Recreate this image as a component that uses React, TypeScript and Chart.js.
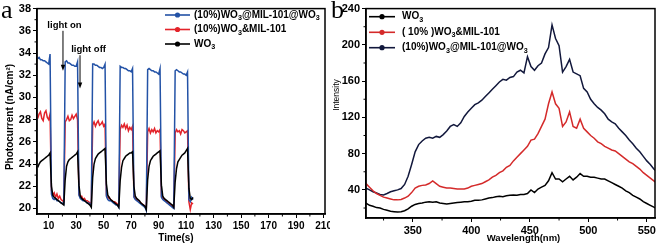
import React, { useEffect, useRef } from 'react';
import { Chart, registerables } from 'chart.js';

Chart.register(...registerables);

const FONT = '"Liberation Sans", Arial, Helvetica, sans-serif';
const SERIF = '"Liberation Serif", "Times New Roman", serif';

// ---------------- Panel a : photocurrent vs time ----------------
const TIME_A = [
  2, 3, 4, 5, 6, 7, 8, 9, 10, 11,
  12, 13, 14, 15, 16, 17, 18, 19, 20, 21,
  22, 23, 24, 25, 26, 27, 28, 29, 30, 31,
  32, 33, 34, 35, 36, 37, 38, 39, 40, 41,
  42, 43, 44, 45, 46, 47, 48, 49, 50, 51,
  52, 53, 54, 55, 56, 57, 58, 59, 60, 61,
  62, 63, 64, 65, 66, 67, 68, 69, 70, 71,
  72, 73, 74, 75, 76, 77, 78, 79, 80, 81,
  82, 83, 84, 85, 86, 87, 88, 89, 90, 91,
  92, 93, 94, 95, 96, 97, 98, 99, 100, 101,
  102, 103, 104, 105, 106, 107, 108, 109, 110, 111,
  112, 113, 114, 115,
];
const BLUE_A = [
  33.5, 33.6, 33.4, 33.4, 33.3, 33.3, 33.2, 33.1, 33.0, 33.9,
  21.3, 20.9, 20.8, 20.9, 20.7, 20.7, 20.6, 20.5, 20.5, 20.4,
  33.2, 33.3, 33.1, 33.1, 33.0, 32.9, 32.9, 32.8, 32.8, 33.2,
  21.2, 20.9, 20.8, 20.7, 20.7, 20.6, 20.5, 20.5, 20.4, 20.2,
  33.0, 33.0, 32.9, 32.9, 32.8, 32.7, 32.7, 32.6, 32.7, 33.0,
  21.1, 20.8, 20.7, 20.7, 20.6, 20.5, 20.4, 20.3, 20.3, 20.1,
  32.8, 32.7, 32.7, 32.6, 32.6, 32.5, 32.4, 32.4, 32.3, 32.6,
  21.0, 20.8, 20.7, 20.6, 20.5, 20.4, 20.3, 20.2, 20.1, 19.8,
  32.5, 32.6, 32.5, 32.4, 32.4, 32.3, 32.3, 32.2, 32.1, 32.6,
  21.0, 20.8, 20.7, 20.6, 20.5, 20.4, 20.3, 20.2, 20.1, 20.0,
  32.4, 32.5, 32.4, 32.3, 32.3, 32.2, 32.1, 32.1, 32.0, 32.3,
  20.8, 20.6, 21.0, 20.8,
];
const RED_A = [
  28.1, 28.5, 28.7, 28.1, 27.9, 28.6, 28.8, 28.2, 28.0, 28.5,
  21.6, 21.2, 21.4, 21.0, 21.3, 20.9, 21.1, 20.8, 20.7, 20.6,
  27.8, 28.0, 28.3, 27.9, 28.0, 28.4, 28.1, 28.3, 28.5, 28.0,
  21.3, 21.0, 21.1, 20.8, 20.9, 20.7, 20.7, 20.6, 20.5, 20.4,
  27.5, 27.8, 27.4, 27.7, 27.9, 27.5, 27.6, 27.8, 27.4, 27.6,
  21.2, 20.9, 21.0, 20.8, 20.7, 20.6, 20.6, 20.5, 20.4, 20.3,
  27.1, 27.5, 27.3, 27.6, 27.2, 27.5, 27.0, 27.3, 27.1, 27.4,
  21.1, 20.9, 20.8, 20.7, 20.6, 20.5, 20.4, 20.3, 20.2, 20.0,
  26.9, 27.2, 26.8, 27.1, 26.9, 27.2, 26.8, 27.0, 26.9, 27.1,
  21.1, 20.9, 20.8, 20.7, 20.6, 20.5, 20.4, 20.3, 20.2, 20.1,
  26.8, 27.1, 26.9, 27.0, 26.7, 27.1, 27.0, 26.8, 26.9, 27.0,
  20.6, 19.9, 20.5, 20.4,
];
const BLACK_A = [
  23.7, 24.0, 24.2, 24.3, 24.4, 24.5, 24.6, 24.7, 24.8, 25.0,
  22.0, 21.2, 21.0, 20.9, 20.8, 20.7, 20.6, 20.5, 20.4, 20.3,
  22.6, 23.8, 24.2, 24.4, 24.5, 24.6, 24.7, 24.8, 24.9, 25.1,
  22.1, 21.1, 20.9, 20.8, 20.7, 20.6, 20.5, 20.4, 20.3, 20.1,
  22.8, 24.0, 24.5, 24.7, 24.9, 25.0, 25.1, 25.2, 25.3, 25.4,
  22.2, 21.2, 21.0, 20.8, 20.7, 20.6, 20.5, 20.4, 20.3, 20.1,
  22.5, 23.7, 24.3, 24.5, 24.7, 24.8, 24.9, 25.0, 25.0, 25.1,
  22.0, 21.1, 20.9, 20.8, 20.7, 20.5, 20.4, 20.3, 20.2, 19.9,
  22.6, 23.8, 24.3, 24.5, 24.7, 24.8, 24.9, 25.0, 25.1, 25.2,
  22.1, 21.1, 20.9, 20.8, 20.7, 20.6, 20.5, 20.4, 20.3, 20.1,
  22.4, 23.6, 24.2, 24.4, 24.6, 24.8, 24.9, 25.0, 25.2, 25.4,
  21.8, 20.9, 20.8, 21.0,
];
const X_TICKS_A = [10, 30, 50, 70, 90, 110, 130, 150, 170, 190, 210];
const X_MINOR_A = [20, 40, 60, 80, 100, 120, 140, 160, 180, 200];
const Y_TICKS_A = [20, 22, 24, 26, 28, 30, 32, 34, 36, 38];
const Y_MINOR_A = [21, 23, 25, 27, 29, 31, 33, 35, 37];
const LEGEND_A = ['(10%)WO₃@MIL-101@WO₃', '(10%)WO₃&MIL-101', 'WO₃'];
const COLORS_A = ['#2352a6', '#e3232a', '#000000'];

// ---------------- Panel b : PL intensity vs wavelength ----------------
const WAVE_B = [
  310, 313, 316, 319, 322, 325, 328, 331, 334, 337,
  340, 343, 346, 349, 352, 355, 358, 361, 364, 367,
  370, 373, 376, 379, 382, 385, 388, 391, 394, 397,
  400, 403, 406, 409, 412, 415, 418, 421, 424, 427,
  430, 433, 436, 439, 442, 445, 448, 451, 454, 457,
  460, 463, 466, 469, 472, 475, 478, 481, 484, 487,
  490, 493, 496, 499, 502, 505, 508, 511, 514, 517,
  520, 523, 526, 529, 532, 535, 538, 541, 544, 547,
  550, 553, 556, 559,
];
const WO3_B = [
  25.5, 23, 22, 20.5, 20, 18.5, 17.5, 16.5, 16, 15.5,
  16, 17, 19, 22, 24, 25, 25.5, 26.5, 27, 26.5,
  27, 25.5, 25, 24.5, 25, 25.5, 26, 26.5, 27, 27,
  27.5, 28.5, 28.5, 29, 30, 31, 31.5, 32.5, 33, 32.5,
  33.5, 34, 34.5, 34, 35, 35, 36, 40, 37, 41,
  43, 45, 50, 59, 52, 52, 49, 52, 55, 51,
  54, 58, 55, 55, 54, 54, 53, 52, 52, 50,
  48, 46, 44, 42, 39, 37, 34, 32, 30, 27,
  25, 23, 21, 19.5,
];
const MIX_B = [
  47, 43, 39, 36, 34, 32, 31, 30, 29, 29,
  29.5, 31, 33, 37, 42, 44, 45, 45.5, 47, 50,
  47, 44, 43, 42, 42, 41.5, 41, 41, 41, 42,
  44, 45, 46, 47, 49, 51, 54, 56, 59, 61,
  65, 67, 72, 76, 80, 84, 88, 95, 96, 102,
  110, 118, 135, 148, 135, 130, 110, 115, 126, 110,
  108, 118, 108, 104, 100, 97, 93, 91, 88, 86,
  84, 83, 80, 77, 74, 71, 69, 66, 63, 59,
  56, 53, 50, 47,
];
const CORE_B = [
  42, 40, 38, 36.5, 35, 34.5, 36, 38, 39, 40,
  41.5, 46, 55, 68, 82, 90, 94, 97, 98, 97,
  99, 98, 101, 105, 110, 112, 110, 114, 121, 126,
  130, 134, 136, 139, 143, 147, 151, 155, 159, 162,
  161, 164, 165, 170, 172, 169, 187, 176, 172, 177,
  180, 190, 197, 222, 207, 199, 170, 176, 184, 170,
  168, 166, 152, 148, 140, 135, 131, 128, 124, 118,
  115, 113, 108, 104, 100, 95, 91, 86, 82, 77,
  72, 68, 63, 60,
];
const X_TICKS_B = [350, 400, 450, 500, 550];
const X_MINOR_B = [325, 375, 425, 475, 525];
const Y_TICKS_B = [40, 80, 120, 160, 200, 240];
const Y_MINOR_B = [20, 60, 100, 140, 180, 220];
const LEGEND_B = ['WO₃', '( 10% )WO₃&MIL-101', '(10%)WO₃@MIL-101@WO₃'];
const COLORS_B = ['#000000', '#d42a2a', '#12183c'];

// ---------------- helpers ----------------
function drawRich(ctx: CanvasRenderingContext2D, text: string, x: number, y: number, size: number, weight: string) {
  const pieces = text.split('₃');
  let cx = x;
  ctx.textAlign = 'left';
  ctx.textBaseline = 'middle';
  pieces.forEach((p, i) => {
    ctx.font = `${weight} ${size}px ${FONT}`;
    ctx.fillText(p, cx, y);
    cx += ctx.measureText(p).width;
    if (i < pieces.length - 1) {
      const s = size * 0.72;
      ctx.font = `${weight} ${s}px ${FONT}`;
      ctx.fillText('3', cx, y + size * 0.32);
      cx += ctx.measureText('3').width;
    }
  });
}

interface Note { text: string; tx: number; ty: number; ax: number; ay1: number; ay2: number }
interface Decor {
  letter: { text: string; x: number; y: number };
  legend: { x1: number; x2: number; textX: number; rows: { y: number; color: string; text: string }[] };
  xTitle: { text: string; x: number; y: number; size: number; weight: string };
  yTitle: { text: string; x: number; y: number; size: number; weight: string };
  minorX: number[];
  minorY: number[];
  notes: Note[];
}

function decorPlugin(d: Decor) {
  return {
    id: 'decor',
    afterDraw(chart: any) {
      const { ctx, chartArea: a, scales } = chart;
      ctx.save();
      ctx.strokeStyle = '#000';
      ctx.fillStyle = '#000';
      ctx.lineWidth = 1.5;
      ctx.strokeRect(a.left, a.top, a.right - a.left, a.bottom - a.top);
      // minor ticks
      ctx.lineWidth = 1;
      ctx.beginPath();
      d.minorX.forEach((v) => {
        const px = scales.x.getPixelForValue(v);
        ctx.moveTo(px, a.bottom);
        ctx.lineTo(px, a.bottom + 2.5);
      });
      d.minorY.forEach((v) => {
        const py = scales.y.getPixelForValue(v);
        ctx.moveTo(a.left, py);
        ctx.lineTo(a.left - 2.5, py);
      });
      ctx.stroke();
      // legend
      d.legend.rows.forEach((r) => {
        ctx.strokeStyle = r.color;
        ctx.fillStyle = r.color;
        ctx.lineWidth = 1.6;
        ctx.beginPath();
        ctx.moveTo(d.legend.x1, r.y);
        ctx.lineTo(d.legend.x2, r.y);
        ctx.stroke();
        ctx.beginPath();
        ctx.arc((d.legend.x1 + d.legend.x2) / 2, r.y, 2.6, 0, Math.PI * 2);
        ctx.fill();
        ctx.fillStyle = '#000';
        drawRich(ctx, r.text, d.legend.textX, r.y, 10, 'bold');
      });
      ctx.fillStyle = '#000';
      ctx.strokeStyle = '#000';
      // axis titles
      ctx.textAlign = 'center';
      ctx.textBaseline = 'middle';
      ctx.font = `${d.xTitle.weight} ${d.xTitle.size}px ${FONT}`;
      ctx.fillText(d.xTitle.text, d.xTitle.x, d.xTitle.y);
      ctx.save();
      ctx.translate(d.yTitle.x, d.yTitle.y);
      ctx.rotate(-Math.PI / 2);
      ctx.font = `${d.yTitle.weight} ${d.yTitle.size}px ${FONT}`;
      ctx.fillText(d.yTitle.text, 0, 0);
      ctx.restore();
      // panel letter
      ctx.textAlign = 'left';
      ctx.textBaseline = 'alphabetic';
      ctx.font = `26px ${SERIF}`;
      ctx.fillText(d.letter.text, d.letter.x, d.letter.y);
      // annotations
      d.notes.forEach((n) => {
        ctx.textAlign = 'center';
        ctx.textBaseline = 'middle';
        ctx.font = `bold 9.5px ${FONT}`;
        ctx.fillText(n.text, scales.x.getPixelForValue(n.tx), scales.y.getPixelForValue(n.ty));
        const ax = scales.x.getPixelForValue(n.ax);
        const y1 = scales.y.getPixelForValue(n.ay1);
        const y2 = scales.y.getPixelForValue(n.ay2);
        ctx.lineWidth = 1;
        ctx.beginPath();
        ctx.moveTo(ax, y1);
        ctx.lineTo(ax, y2 - 4);
        ctx.stroke();
        ctx.beginPath();
        ctx.moveTo(ax - 2.2, y2 - 6);
        ctx.lineTo(ax + 2.2, y2 - 6);
        ctx.lineTo(ax, y2);
        ctx.closePath();
        ctx.fill();
      });
      ctx.restore();
    },
  };
}

function makeScale(min: number, max: number, ticks: number[], fontSize: number, fit: (s: any) => void) {
  return {
    type: 'linear',
    min,
    max,
    afterBuildTicks: (s: any) => {
      s.ticks = ticks.map((v) => ({ value: v }));
    },
    afterFit: fit,
    ticks: {
      autoSkip: false,
      maxRotation: 0,
      color: '#000',
      padding: 2,
      font: { family: FONT, size: fontSize, weight: 'bold' },
    },
    grid: { display: true, drawOnChartArea: false, drawTicks: true, tickLength: 4, color: '#000', lineWidth: 1 },
    border: { display: true, color: '#000', width: 1.5 },
  };
}

function series(xs: number[], ys: number[], label: string, color: string, order: number) {
  return {
    label,
    data: xs.map((x, i) => ({ x, y: ys[i] })),
    borderColor: color,
    backgroundColor: color,
    borderWidth: 1.5,
    pointRadius: 0,
    tension: 0,
    fill: false,
    order,
  };
}

function configA(): any {
  return {
    type: 'line',
    data: {
      datasets: [
        series(TIME_A, BLACK_A, LEGEND_A[2], COLORS_A[2], 0),
        series(TIME_A, BLUE_A, LEGEND_A[0], COLORS_A[0], 1),
        series(TIME_A, RED_A, LEGEND_A[1], COLORS_A[1], 2),
      ],
    },
    options: {
      animation: false,
      responsive: false,
      devicePixelRatio: 1,
      layout: { padding: { top: 7, right: 20, left: 0, bottom: 0 } },
      plugins: { legend: { display: false }, tooltip: { enabled: false } },
      scales: {
        x: makeScale(1.5, 211, X_TICKS_A, 10, (s: any) => { s.height = 35; }),
        y: makeScale(19.5, 38, Y_TICKS_A, 11, (s: any) => { s.width = 37; }),
      },
    },
    plugins: [
      decorPlugin({
        letter: { text: 'a', x: 1, y: 18 },
        legend: {
          x1: 165, x2: 190, textX: 194,
          rows: [
            { y: 15, color: COLORS_A[0], text: LEGEND_A[0] },
            { y: 29.5, color: COLORS_A[1], text: LEGEND_A[1] },
            { y: 44, color: COLORS_A[2], text: LEGEND_A[2] },
          ],
        },
        xTitle: { text: 'Time(s)', x: 176, y: 238, size: 10, weight: 'bold' },
        yTitle: { text: 'Photocurrent (nA/cm²)', x: 10, y: 117, size: 10, weight: 'bold' },
        minorX: X_MINOR_A,
        minorY: Y_MINOR_A,
        notes: [
          { text: 'light on', tx: 21.5, ty: 36.5, ax: 20.4, ay1: 36.0, ay2: 32.4 },
          { text: 'light off', tx: 39, ty: 34.3, ax: 32.8, ay1: 33.8, ay2: 30.8 },
        ],
      }),
    ],
  };
}

function configB(): any {
  return {
    type: 'line',
    data: {
      datasets: [
        series(WAVE_B, WO3_B, LEGEND_B[0], COLORS_B[0], 0),
        series(WAVE_B, MIX_B, LEGEND_B[1], COLORS_B[1], 1),
        series(WAVE_B, CORE_B, LEGEND_B[2], COLORS_B[2], 2),
      ],
    },
    options: {
      animation: false,
      responsive: false,
      devicePixelRatio: 1,
      layout: { padding: { top: 7, right: 4, left: 0, bottom: 0 } },
      plugins: { legend: { display: false }, tooltip: { enabled: false } },
      scales: {
        x: makeScale(310, 557, X_TICKS_B, 11, (s: any) => { s.height = 31; }),
        y: makeScale(9, 240, Y_TICKS_B, 11, (s: any) => { s.width = 36; }),
      },
    },
    plugins: [
      decorPlugin({
        letter: { text: 'b', x: 1, y: 18 },
        legend: {
          x1: 39, x2: 65, textX: 72,
          rows: [
            { y: 16.7, color: COLORS_B[0], text: LEGEND_B[0] },
            { y: 32.3, color: COLORS_B[1], text: LEGEND_B[1] },
            { y: 47.7, color: COLORS_B[2], text: LEGEND_B[2] },
          ],
        },
        xTitle: { text: 'Wavelength(nm)', x: 193.5, y: 238, size: 9.5, weight: 'bold' },
        yTitle: { text: 'Intensity', x: 7, y: 95, size: 8.5, weight: 'normal' },
        minorX: X_MINOR_B,
        minorY: Y_MINOR_B,
        notes: [],
      }),
    ],
  };
}

export default function App() {
  const refA = useRef<HTMLCanvasElement | null>(null);
  const refB = useRef<HTMLCanvasElement | null>(null);
  useEffect(() => {
    const a = new Chart(refA.current as HTMLCanvasElement, configA());
    const b = new Chart(refB.current as HTMLCanvasElement, configB());
    return () => {
      a.destroy();
      b.destroy();
    };
  }, []);
  return (
    <div style={{ position: 'fixed', left: 0, top: 0, width: 659, height: 249, background: '#fff', overflow: 'hidden' }}>
      <div style={{ position: 'absolute', left: 0, top: 0, width: 330, height: 249, overflow: 'hidden' }}>
        <canvas ref={refA} width={345} height={249} style={{ display: 'block' }} />
      </div>
      <div style={{ position: 'absolute', left: 330, top: 0, width: 329, height: 249, overflow: 'hidden' }}>
        <canvas ref={refB} width={329} height={249} style={{ display: 'block' }} />
      </div>
    </div>
  );
}
